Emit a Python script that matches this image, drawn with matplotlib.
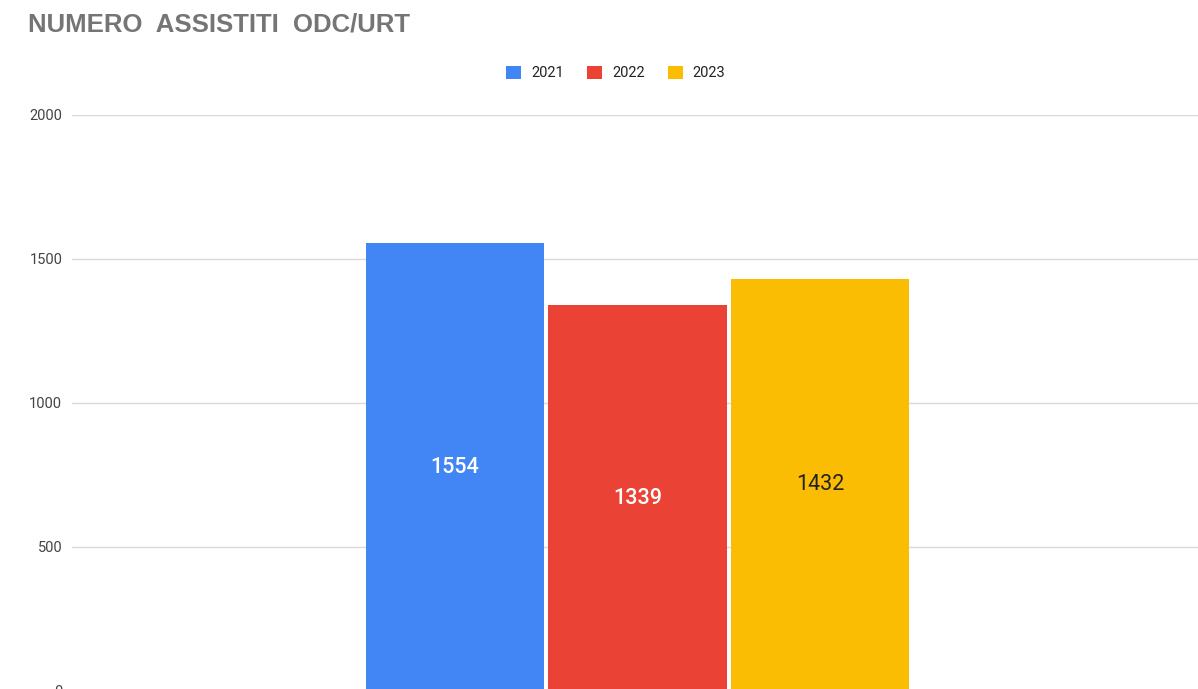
import matplotlib.pyplot as plt
from matplotlib.patches import Patch

years = ['2021', '2022', '2023']
values = [1554, 1339, 1432]
colors = ['#4285F4', '#EA4335', '#FBBC04']
label_colors = ['white', 'white', '#222222']
yticks = [0, 500, 1000, 1500, 2000]

plt.rcParams['font.family'] = ['Roboto', 'DejaVu Sans']

fig = plt.figure(figsize=(11.98, 6.89), dpi=100)
# axes: x from 72px to right edge, y 0 at ~691px (just below the bottom), 2000 at 115px
ax = fig.add_axes([72 / 1198, -2 / 689, 1 - 72 / 1198, 576 / 689])

pos = list(range(len(values)))
bars = ax.bar(pos, values, width=0.98, color=colors, zorder=3)
for b, v, c in zip(bars, values, label_colors):
    ax.text(b.get_x() + b.get_width() / 2, v / 2, str(v), ha='center', va='center',
            fontsize=15.5, fontweight='medium' if c == 'white' else 'normal',
            color=c, zorder=4)

ax.set_xlim(-2.099, 4.071)
ax.set_ylim(0, 2000)
ax.set_yticks(yticks)
ax.set_yticklabels([str(t) for t in yticks], fontsize=10.5, color='#444444')
ax.tick_params(axis='y', length=0, pad=7)
ax.set_xticks([])
ax.grid(axis='y', color='#d9d9d9', linewidth=1, zorder=0)
for s in ax.spines.values():
    s.set_visible(False)

fig.text(28 / 1198, 1 - 25 / 689, 'NUMERO  ASSISTITI  ODC/URT', fontsize=18.5,
         fontweight='bold', color='#757575', va='center', ha='left',
         family=['Liberation Sans', 'DejaVu Sans'])

handles = [Patch(facecolor=c, edgecolor='none') for c in colors]
fig.legend(handles, years, loc='center', bbox_to_anchor=(616 / 1198, 1 - 73 / 689),
           ncol=3, frameon=False, fontsize=10.5, handlelength=1.0, handleheight=1.0,
           columnspacing=1.6, handletextpad=0.7, labelcolor='#222222')

fig.savefig('out.png', dpi=100)
